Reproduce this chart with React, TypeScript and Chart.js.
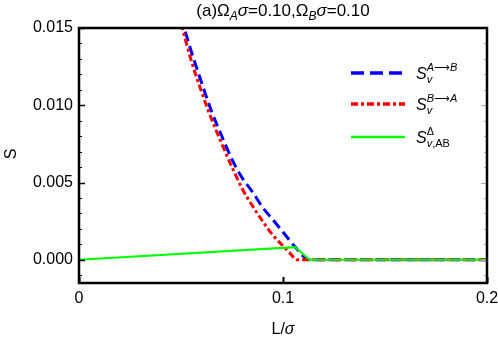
import { useEffect, useRef } from 'react';
import { Chart, registerables } from 'chart.js';

Chart.register(...registerables);

// L/sigma values and S values for each series
const lAB = [0.050, 0.055, 0.060, 0.065, 0.070, 0.075, 0.080, 0.085, 0.090, 0.095, 0.100, 0.106, 0.113, 0.200];
const sAB = [0.0157, 0.0135, 0.0115, 0.0096, 0.0080, 0.0065, 0.0053, 0.0044, 0.0034, 0.0026, 0.0018, 0.00082, 0.0, 0.0];

const lBA = [0.050, 0.055, 0.060, 0.065, 0.070, 0.075, 0.080, 0.085, 0.090, 0.095, 0.100, 0.103, 0.1055, 0.107, 0.200];
const sBA = [0.0153, 0.0129, 0.0109, 0.0091, 0.0075, 0.0060, 0.0046, 0.0035, 0.0025, 0.0016, 0.0009, 0.0005, 0.00012, 0.0, 0.0];

const lDelta = [0.0, 0.106, 0.113, 0.200];
const sDelta = [0.0, 0.00082, 0.0, 0.0];

const xTicks = [0, 0.1, 0.2];
const xTickLabels = ['0', '0.1', '0.2'];
const yTicks = [0, 0.005, 0.01, 0.015];
const yTickLabels = ['0.000', '0.005', '0.010', '0.015'];
const yMinorStep = 0.001;

const FONT = '"Liberation Sans", Arial, sans-serif';

type Seg = { t: string; size: number; italic?: boolean; dy?: number };

function drawRich(ctx: CanvasRenderingContext2D, segs: Seg[], x: number, y: number, align: 'left' | 'center') {
  let total = 0;
  for (const s of segs) {
    ctx.font = `${s.italic ? 'italic ' : ''}${s.size}px ${FONT}`;
    total += ctx.measureText(s.t).width;
  }
  let cx = align === 'center' ? x - total / 2 : x;
  ctx.textBaseline = 'alphabetic';
  ctx.textAlign = 'left';
  for (const s of segs) {
    ctx.font = `${s.italic ? 'italic ' : ''}${s.size}px ${FONT}`;
    ctx.fillText(s.t, cx, y + (s.dy || 0));
    cx += ctx.measureText(s.t).width;
  }
}

const decorPlugin = {
  id: 'decor',
  afterDraw(chart: any) {
    const { ctx, chartArea: a, scales } = chart;
    const x = scales.x;
    const y = scales.y;
    ctx.save();

    // minor / major ticks on y (left black, right gray)
    const yMin = y.min;
    const yMax = y.max;
    for (let k = Math.ceil(yMin / yMinorStep); k * yMinorStep <= yMax + 1e-12; k++) {
      const v = k * yMinorStep;
      const major = yTicks.some((t) => Math.abs(t - v) < 1e-9);
      const py = Math.round(y.getPixelForValue(v)) + 0.5;
      const len = major ? 6 : 3;
      ctx.lineWidth = major ? 1.5 : 1;
      ctx.strokeStyle = '#000';
      ctx.beginPath();
      ctx.moveTo(a.left, py);
      ctx.lineTo(a.left + len, py);
      ctx.stroke();
      ctx.strokeStyle = '#aaa';
      ctx.lineWidth = 1;
      ctx.beginPath();
      ctx.moveTo(a.right, py);
      ctx.lineTo(a.right - len, py);
      ctx.stroke();
    }
    // x major ticks
    for (const v of xTicks) {
      const px = Math.round(x.getPixelForValue(v)) + 0.5;
      ctx.strokeStyle = '#000';
      ctx.lineWidth = 2;
      ctx.beginPath();
      ctx.moveTo(px, a.bottom);
      ctx.lineTo(px, a.bottom - 6);
      ctx.stroke();
    }

    // frame
    ctx.strokeStyle = '#000';
    ctx.lineWidth = 2.5;
    ctx.strokeRect(a.left, a.top, a.right - a.left, a.bottom - a.top);

    ctx.fillStyle = '#000';
    // title
    const cx = (a.left + a.right) / 2;
    drawRich(
      ctx,
      [
        { t: '(a)Ω', size: 17 },
        { t: 'A', size: 12, italic: true, dy: 4 },
        { t: 'σ', size: 17, italic: true },
        { t: '=0.10,Ω', size: 17 },
        { t: 'B', size: 12, italic: true, dy: 4 },
        { t: 'σ', size: 17, italic: true },
        { t: '=0.10', size: 17 },
      ],
      cx,
      16,
      'center'
    );

    // axis titles
    ctx.font = `16px ${FONT}`;
    ctx.textAlign = 'center';
    ctx.textBaseline = 'middle';
    ctx.save();
    ctx.translate(12, 154);
    ctx.rotate(-Math.PI / 2);
    ctx.fillText('S', 0, 0);
    ctx.restore();
    drawRich(
      ctx,
      [
        { t: 'L/', size: 16 },
        { t: 'σ', size: 16, italic: true },
      ],
      cx,
      334,
      'center'
    );

    // legend
    const lx0 = 351;
    const lx1 = 405;
    const tx = 416;
    const rows = [
      { yy: 73, color: '#0000ff', dash: [13, 6], w: 3.5 },
      { yy: 104, color: '#ff0000', dash: [7, 3, 3, 3], w: 3.5 },
      { yy: 137, color: '#00ff00', dash: [], w: 2.5 },
    ];
    for (const r of rows) {
      ctx.strokeStyle = r.color;
      ctx.lineWidth = r.w;
      ctx.setLineDash(r.dash);
      ctx.beginPath();
      ctx.moveTo(lx0, r.yy);
      ctx.lineTo(lx1, r.yy);
      ctx.stroke();
    }
    ctx.setLineDash([]);
    ctx.fillStyle = '#000';
    ctx.font = `italic 16px ${FONT}`;
    const sw = ctx.measureText('S').width;
    const legendRows: { yy: number; sup: Seg[]; sub: Seg[] }[] = [
      {
        yy: 79,
        sup: [
          { t: 'A', size: 11, italic: true },
          { t: '⟶', size: 11 },
          { t: 'B', size: 11, italic: true },
        ],
        sub: [{ t: 'v', size: 11, italic: true }],
      },
      {
        yy: 110,
        sup: [
          { t: 'B', size: 11, italic: true },
          { t: '⟶', size: 11 },
          { t: 'A', size: 11, italic: true },
        ],
        sub: [{ t: 'v', size: 11, italic: true }],
      },
      {
        yy: 143,
        sup: [{ t: 'Δ', size: 11 }],
        sub: [
          { t: 'v', size: 11, italic: true },
          { t: ',AB', size: 11 },
        ],
      },
    ];
    for (const r of legendRows) {
      drawRich(ctx, [{ t: 'S', size: 16, italic: true }], tx, r.yy, 'left');
      drawRich(ctx, r.sup, tx + sw, r.yy - 8, 'left');
      drawRich(ctx, r.sub, tx + sw, r.yy + 4, 'left');
    }

    ctx.restore();
  },
};

export default function App() {
  const ref = useRef<HTMLCanvasElement | null>(null);
  useEffect(() => {
    if (!ref.current) return;
    const toPts = (xs: number[], ys: number[]) => xs.map((v, i) => ({ x: v, y: ys[i] }));
    const chart = new Chart(ref.current, {
      type: 'line',
      data: {
        datasets: [
          {
            label: 'S_v^{A→B}',
            data: toPts(lAB, sAB),
            borderColor: '#0000ff',
            borderWidth: 3,
            borderDash: [10, 5],
            pointRadius: 0,
            cubicInterpolationMode: 'monotone',
            order: 3,
          },
          {
            label: 'S_v^{B→A}',
            data: toPts(lBA, sBA),
            borderColor: '#ff0000',
            borderWidth: 3,
            borderDash: [7, 3, 3, 3],
            pointRadius: 0,
            cubicInterpolationMode: 'monotone',
            order: 2,
          },
          {
            label: 'S_{v,AB}^Δ',
            data: toPts(lDelta, sDelta),
            borderColor: '#00ff00',
            borderWidth: 2,
            pointRadius: 0,
            tension: 0,
            order: 1,
          },
        ],
      },
      options: {
        animation: false,
        responsive: false,
        layout: { padding: { top: 28, right: 11, left: 0, bottom: 0 } },
        plugins: { legend: { display: false }, title: { display: false }, tooltip: { enabled: false } },
        scales: {
          x: {
            type: 'linear',
            min: 0,
            max: 0.2,
            afterBuildTicks: (s: any) => {
              s.ticks = xTicks.map((v) => ({ value: v }));
            },
            afterFit: (s: any) => {
              s.height = 57;
              s.paddingLeft = 0;
              s.paddingRight = 0;
            },
            ticks: {
              autoSkip: false,
              maxRotation: 0,
              padding: 6,
              color: '#000',
              font: { size: 16, family: FONT },
              callback: (v: any) => {
                const i = xTicks.findIndex((t) => Math.abs(t - Number(v)) < 1e-9);
                return i >= 0 ? xTickLabels[i] : '';
              },
            },
            grid: { display: false, drawTicks: false },
            border: { display: false },
          },
          y: {
            type: 'linear',
            min: -0.0015,
            max: 0.015,
            afterBuildTicks: (s: any) => {
              s.ticks = yTicks.map((v) => ({ value: v }));
            },
            afterFit: (s: any) => {
              s.width = 79;
              s.paddingTop = 0;
              s.paddingBottom = 0;
            },
            ticks: {
              autoSkip: false,
              padding: 6,
              color: '#000',
              font: { size: 16, family: FONT },
              callback: (v: any) => {
                const i = yTicks.findIndex((t) => Math.abs(t - Number(v)) < 1e-9);
                return i >= 0 ? yTickLabels[i] : '';
              },
            },
            grid: { display: false, drawTicks: false },
            border: { display: false },
          },
        },
      },
      plugins: [decorPlugin],
    } as any);
    return () => chart.destroy();
  }, []);
  return (
    <div style={{ position: 'absolute', left: 0, top: 0, width: 498, height: 340, background: '#fff' }}>
      <canvas ref={ref} width={498} height={340} />
    </div>
  );
}
